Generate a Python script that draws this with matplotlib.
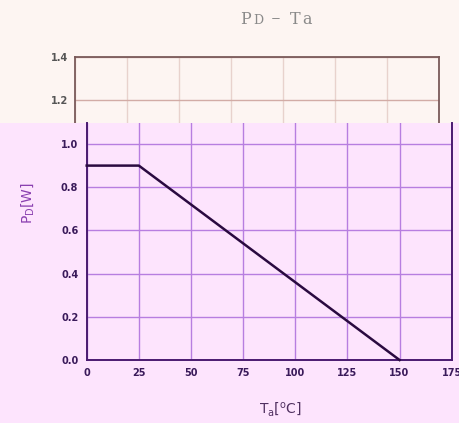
import matplotlib.pyplot as plt
from matplotlib.patches import Rectangle

# derating curve
ta = [0, 25, 150]
pd_w = [0.9, 0.9, 0.0]
x_ticks = [0, 25, 50, 75, 100, 125, 150, 175]
y_ticks_low = [0.0, 0.2, 0.4, 0.6, 0.8, 1.0]
y_ticks_up = [1.2, 1.4]

W, H = 459, 423
PEACH = '#fdf5f2'
PINK = '#fde4fd'


def box(x0, y0, x1, y1):
    # pixel box (top-left origin) -> figure fraction
    return [x0 / W, 1 - y1 / H, (x1 - x0) / W, (y1 - y0) / H]


fig = plt.figure(figsize=(W / 100, H / 100), dpi=100)
fig.patch.set_facecolor(PEACH)

px_per_unit = (360 - 144) / 1.0
cut = 123.3

# upper (peach) layer
ax_up = fig.add_axes(box(74.7, 56.7, 439.3, cut), zorder=0)
ax_up.set_facecolor(PEACH)
ax_up.set_xlim(0, 175)
ax_up.set_ylim(1.4 - (cut - 56.7) / px_per_unit, 1.4)
ax_up.set_xticks(x_ticks)
ax_up.set_yticks(y_ticks_up)
ax_up.set_yticklabels(['%.1f' % v for v in y_ticks_up])
ax_up.tick_params(length=0, labelbottom=False, pad=5, labelsize=7, labelcolor='#555555')
for lab in ax_up.get_yticklabels():
    lab.set_fontweight('bold')
ax_up.xaxis.grid(True, color='#e8d2cd', linewidth=1)
ax_up.yaxis.grid(True, color='#d2aca6', linewidth=1)
for s in ['top', 'left', 'right']:
    ax_up.spines[s].set_color('#7a5a5a')
    ax_up.spines[s].set_linewidth(1.3)
ax_up.spines['bottom'].set_visible(False)

# pink layer covering the lower part
fig.add_artist(Rectangle((0, 0), 1, 1 - cut / H, transform=fig.transFigure,
                         facecolor=PINK, edgecolor='none', zorder=1))

# lower (pink) chart
ax = fig.add_axes(box(86.7, cut, 451.7, 360), zorder=2)
ax.set_facecolor(PINK)
ax.plot(ta, pd_w, color='#2a0a40', linewidth=1.8, zorder=3, clip_on=False)
ax.set_xlim(0, 175)
ax.set_ylim(0, (360 - cut) / px_per_unit)
ax.set_xticks(x_ticks)
ax.set_yticks(y_ticks_low)
ax.set_yticklabels(['%.1f' % v for v in y_ticks_low])
ax.tick_params(length=0, pad=6, labelsize=7, labelcolor='#3a1a5a')
for lab in ax.get_xticklabels() + ax.get_yticklabels():
    lab.set_fontweight('bold')
ax.grid(True, color='#b77ee0', linewidth=1)
for s in ['bottom', 'left', 'right']:
    ax.spines[s].set_color('#4a1a70')
    ax.spines[s].set_linewidth(1.4)
ax.spines['top'].set_visible(False)

# labels
ax.set_ylabel(r'P$_\mathregular{D}$[W]', color='#8a40b0', fontsize=10)
ax.set_xlabel(r'T$_\mathregular{a}$[$^\mathregular{o}$C]', color='#503060', fontsize=10)
ax.yaxis.set_label_coords((36 - 86.7) / 365, (360 - 203) / (360 - cut))
ax.xaxis.set_label_coords((280 - 86.7) / 365, -(400 - 360) / (360 - cut))

# title "PD - Ta"  (text, x px, baseline px, size)
title_parts = [('P', 240, 24, 11.5), ('D', 253, 24, 9), ('\u2212', 271, 21.5, 8.5),
               ('T', 290, 24, 11.5), ('a', 302, 24, 11.5)]
for txt, px, py, size in title_parts:
    fig.text(px / W, 1 - py / H, txt, fontsize=size, color='#8a8a8a',
             family='DejaVu Serif', ha='left', va='baseline')

fig.savefig('out.png', dpi=100, facecolor=fig.get_facecolor())
